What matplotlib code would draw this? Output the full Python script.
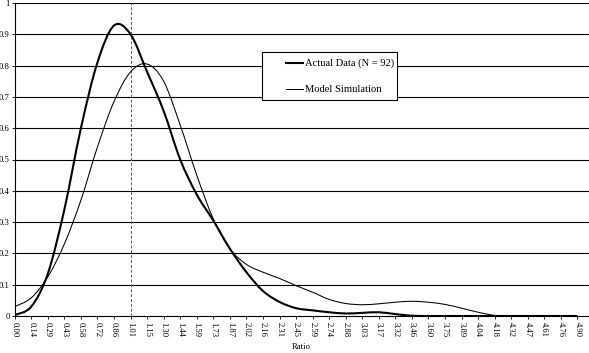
import numpy as np
import matplotlib
matplotlib.use("Agg")
import matplotlib.pyplot as plt
from matplotlib.path import Path
from matplotlib.patches import PathPatch, Rectangle
from matplotlib.lines import Line2D

ratio_labels = ["0.00", "0.14", "0.29", "0.43", "0.58", "0.72", "0.86", "1.01",
                "1.15", "1.30", "1.44", "1.59", "1.73", "1.87", "2.02", "2.16",
                "2.31", "2.45", "2.59", "2.74", "2.88", "3.03", "3.17", "3.32",
                "3.46", "3.60", "3.75", "3.89", "4.04", "4.18", "4.32", "4.47",
                "4.61", "4.76", "4.90"]

actual_data = [0.003, 0.030, 0.135, 0.340, 0.600, 0.810, 0.928, 0.900,
               0.780, 0.655, 0.500, 0.388, 0.305, 0.215, 0.140, 0.080,
               0.045, 0.025, 0.018, 0.012, 0.008, 0.010, 0.012, 0.006,
               0.001, 0.0, 0.0, 0.0, 0.0, 0.0, 0.0, 0.0,
               0.0, 0.0, 0.0]

model_simulation = [0.030, 0.058, 0.125, 0.230, 0.370, 0.540, 0.685, 0.780,
                    0.805, 0.750, 0.610, 0.450, 0.310, 0.215, 0.165, 0.140,
                    0.120, 0.097, 0.076, 0.053, 0.040, 0.036, 0.039, 0.044,
                    0.047, 0.044, 0.037, 0.025, 0.012, 0.002, 0.0, 0.0,
                    0.0, 0.0, 0.0]

series_names = ["Actual Data (N = 92)", "Model Simulation"]
series_widths = [1.5, 0.75]
reference_ratio = "1.01"
y_ticks = [0, 0.1, 0.2, 0.3, 0.4, 0.5, 0.6, 0.7, 0.8, 0.9, 1.0]
y_tick_labels = ["0", "0.1", "0.2", "0.3", "0.4", "0.5", "0.6", "0.7", "0.8", "0.9", "1"]

SERIF = ["Liberation Serif", "DejaVu Serif"]


def smooth_path(xs, ys):
    pts = np.column_stack([xs, ys]).astype(float)
    n = len(pts)
    verts = [pts[0]]
    codes = [Path.MOVETO]
    for i in range(n - 1):
        p0 = pts[i - 1] if i > 0 else pts[i]
        p1 = pts[i]
        p2 = pts[i + 1]
        p3 = pts[i + 2] if i + 2 < n else pts[i + 1]
        c1 = p1 + (p2 - p0) / 6.0
        c2 = p2 - (p3 - p1) / 6.0
        verts += [c1, c2, p2]
        codes += [Path.CURVE4] * 3
    return Path(verts, codes)


W, H = 589, 353
fig = plt.figure(figsize=(W / 100, H / 100), dpi=100)
left_px, top_px, bottom_px = 14.7, 3.0, 316.0
ax = fig.add_axes([left_px / W, (H - bottom_px) / H, 1 - left_px / W, (bottom_px - top_px) / H])

x = np.arange(len(ratio_labels))
ax.set_xlim(0, 34.7)
ax.set_ylim(0, 1)

for yv in y_ticks[1:]:
    ax.axhline(yv, color="black", lw=0.8, zorder=1)

ax.axvline(ratio_labels.index(reference_ratio), color="#555555", lw=0.7,
           ls=(0, (3, 2)), zorder=1.5)

ax.add_patch(PathPatch(smooth_path(x, model_simulation), facecolor="none",
                       edgecolor="black", lw=series_widths[1], zorder=3))
ax.add_patch(PathPatch(smooth_path(x, actual_data), facecolor="none",
                       edgecolor="black", lw=series_widths[0], zorder=4))

ax.set_xticks(x)
ax.set_xticklabels(ratio_labels, rotation=270, fontsize=6.2, family=SERIF)
ax.set_yticks(y_ticks)
ax.set_yticklabels(y_tick_labels, fontsize=6.2, family=SERIF)
ax.tick_params(axis="x", direction="out", length=2.5, width=0.6, pad=2, color="black")
ax.tick_params(axis="y", direction="out", length=2.5, width=0.6, pad=1, color="black")

for s in ["top", "right"]:
    ax.spines[s].set_visible(False)
for s in ["left", "bottom"]:
    ax.spines[s].set_color("black")
    ax.spines[s].set_linewidth(0.8)
    ax.spines[s].set_zorder(5)

ax.set_xlabel("Ratio", fontsize=6.2, family=SERIF, va="center")
ax.xaxis.set_label_coords((301 - left_px) / (W - left_px), (bottom_px - 346.7) / (bottom_px - top_px))

# Legend box (Excel style, drawn in figure pixel coordinates)
def fx(px):
    return px / W


def fy(py):
    return 1 - py / H


box_l, box_t, box_r, box_b = 261.7, 52.0, 397.0, 100.0
fig.add_artist(Rectangle((fx(box_l), fy(box_b)), fx(box_r) - fx(box_l), fy(box_t) - fy(box_b),
                         transform=fig.transFigure, facecolor="white", edgecolor="black",
                         lw=0.8, zorder=10))
row_y = [63.3, 89.3]
for name, lw, ry in zip(series_names, series_widths, row_y):
    fig.add_artist(Line2D([fx(286), fx(303)], [fy(ry), fy(ry)], transform=fig.transFigure,
                          color="black", lw=lw, zorder=11))
    fig.text(fx(305), fy(ry), name, ha="left", va="center", family=SERIF,
             fontsize=7.6, zorder=12)

fig.savefig("out.png", dpi=100)
